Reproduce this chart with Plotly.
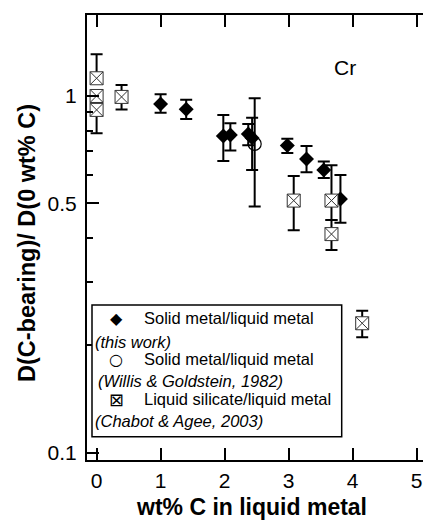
import plotly.graph_objects as go

# --- data ---
# Solid metal/liquid metal (this work)
tw_x = [1.0, 1.4, 1.98, 2.09, 2.37, 2.43, 2.98, 3.28, 3.55, 3.81]
tw_y = [0.950, 0.918, 0.772, 0.777, 0.782, 0.763, 0.726, 0.666, 0.620, 0.514]
tw_ep = [0.061, 0.058, 0.113, 0.061, 0.053, 0.106, 0.033, 0.058, 0.035, 0.086]
tw_em = [0.052, 0.056, 0.115, 0.074, 0.055, 0.143, 0.034, 0.055, 0.031, 0.073]

# Solid metal/liquid metal (Willis & Goldstein, 1982)
wg_x = [2.47]
wg_y = [0.734]
wg_ep = [0.252]
wg_em = [0.244]

# Liquid silicate/liquid metal (Chabot & Agee, 2003)
ca_x = [0.0, 0.0, 0.0, 0.39, 3.08, 3.67, 3.67, 4.15]
ca_y = [1.121, 1.000, 0.914, 0.994, 0.509, 0.509, 0.410, 0.2306]
ca_ep = [0.188, 0.0, 0.0, 0.080, 0.088, 0.130, 0.039, 0.0195]
ca_em = [0.0, 0.0, 0.128, 0.077, 0.089, 0.060, 0.040, 0.0199]

x_ticks = [0, 1, 2, 3, 4, 5]
y_ticks = [0.1, 0.5, 1]
y_ticktext = ["0.1", "0.5", "1"]
y_minor = [0.2, 0.3, 0.4, 0.6, 0.7, 0.8, 0.9]

FONT = "Liberation Sans, Arial, Helvetica, sans-serif"

W, H = 423, 522
ML, MR, MT, MB = 87, 0, 15, 62
PW, PH = W - ML - MR, H - MT - MB


def px(xp):
    return (xp - ML) / PW


def py(yp):
    return (H - MB - yp) / PH


err_style = dict(type="data", symmetric=False, color="black", thickness=2, width=6)

fig = go.Figure()
fig.add_trace(go.Scatter(
    x=wg_x, y=wg_y, mode="markers",
    marker=dict(symbol="circle-open", size=13, color="black", line=dict(width=1.2)),
    error_y=dict(array=wg_ep, arrayminus=wg_em, **err_style),
    showlegend=False))
fig.add_trace(go.Scatter(
    x=tw_x, y=tw_y, mode="markers",
    marker=dict(symbol="diamond", size=11.5, color="black", line=dict(width=0)),
    error_y=dict(array=tw_ep, arrayminus=tw_em, **err_style),
    showlegend=False))
fig.add_trace(go.Scatter(
    x=ca_x, y=ca_y, mode="markers",
    marker=dict(symbol="square-x", size=13, color="white", line=dict(width=1, color="#333")),
    error_y=dict(array=ca_ep, arrayminus=ca_em, **err_style),
    showlegend=False))

yr = [-1.0205, 0.227]
tickfont = dict(family=FONT, size=21, color="black")

fig.update_layout(
    width=W, height=H,
    margin=dict(l=ML, r=MR, t=MT, b=MB),
    paper_bgcolor="white", plot_bgcolor="white",
    showlegend=False,
    xaxis=dict(range=[-0.15, 5.1], tickmode="array", tickvals=x_ticks,
               ticks="inside", ticklen=12, tickwidth=2, tickcolor="black",
               showline=True, linewidth=2, linecolor="black", mirror="ticks",
               showgrid=False, zeroline=False, tickfont=tickfont, ticklabelstandoff=1),
    yaxis=dict(type="log", range=yr, tickmode="array", tickvals=y_ticks, ticktext=y_ticktext,
               ticks="inside", ticklen=12, tickwidth=2, tickcolor="black",
               minor=dict(tickmode="array", tickvals=y_minor, ticks="inside", ticklen=6,
                          tickwidth=1.5, tickcolor="black", showgrid=False),
               showline=True, linewidth=2, linecolor="black", mirror=False,
               showgrid=False, zeroline=False, tickfont=tickfont, ticklabelstandoff=4),
    yaxis2=dict(type="log", range=yr, overlaying="y", side="right", anchor="x",
                tickmode="array", tickvals=y_ticks, showticklabels=False,
                ticks="inside", ticklen=12, tickwidth=2, tickcolor="black",
                minor=dict(tickmode="array", tickvals=y_minor, ticks="inside", ticklen=6,
                           tickwidth=1.5, tickcolor="black", showgrid=False),
                showline=False, showgrid=False, zeroline=False),
)

# legend box
fig.add_shape(type="rect", xref="paper", yref="paper",
              x0=px(92), x1=px(341.7), y0=py(436.7), y1=py(305),
              line=dict(color="black", width=1.5), fillcolor="white", layer="above")

LF = 16.5
leg = [
    ("◆", 16, "Solid metal/liquid metal", 318.3, "(this work)", 341.7, 93),
    ("○", 16, "Solid metal/liquid metal", 359.3, "(Willis & Goldstein, 1982)", 380.7, 96),
    ("⊠", 18, "Liquid silicate/liquid metal", 399.3, "(Chabot & Agee, 2003)", 420.7, 93),
]
for sym, ss, txt, y1, sub, y2, xs in leg:
    fig.add_annotation(xref="paper", yref="paper", x=px(116), y=py(y1), text=sym,
                       showarrow=False, xanchor="center", yanchor="middle",
                       font=dict(family="DejaVu Sans", size=ss, color="black"))
    fig.add_annotation(xref="paper", yref="paper", x=px(141.7), y=py(y1), text=txt,
                       showarrow=False, xanchor="left", yanchor="middle",
                       font=dict(family=FONT, size=LF, color="black"))
    fig.add_annotation(xref="paper", yref="paper", x=px(xs), y=py(y2), text="<i>" + sub + "</i>",
                       showarrow=False, xanchor="left", yanchor="middle",
                       font=dict(family=FONT, size=LF, color="black"))

# panel label
fig.add_annotation(xref="paper", yref="paper", x=px(344.7), y=py(67), text="Cr",
                   showarrow=False, xanchor="center", yanchor="middle",
                   font=dict(family=FONT, size=21, color="black"))

# axis titles
fig.add_annotation(xref="paper", yref="paper", x=px(251.5), y=py(521),
                   text="<b>wt% C in liquid metal</b>", showarrow=False,
                   xanchor="center", yanchor="bottom", borderpad=0,
                   font=dict(family=FONT, size=23, color="black"))
fig.add_annotation(xref="paper", yref="paper", x=px(27), y=py(243),
                   text="<b>D(C-bearing)/ D(0 wt% C)</b>", showarrow=False, textangle=-90,
                   xanchor="center", yanchor="middle",
                   font=dict(family=FONT, size=23.5, color="black"))

fig.write_html("out.html")
